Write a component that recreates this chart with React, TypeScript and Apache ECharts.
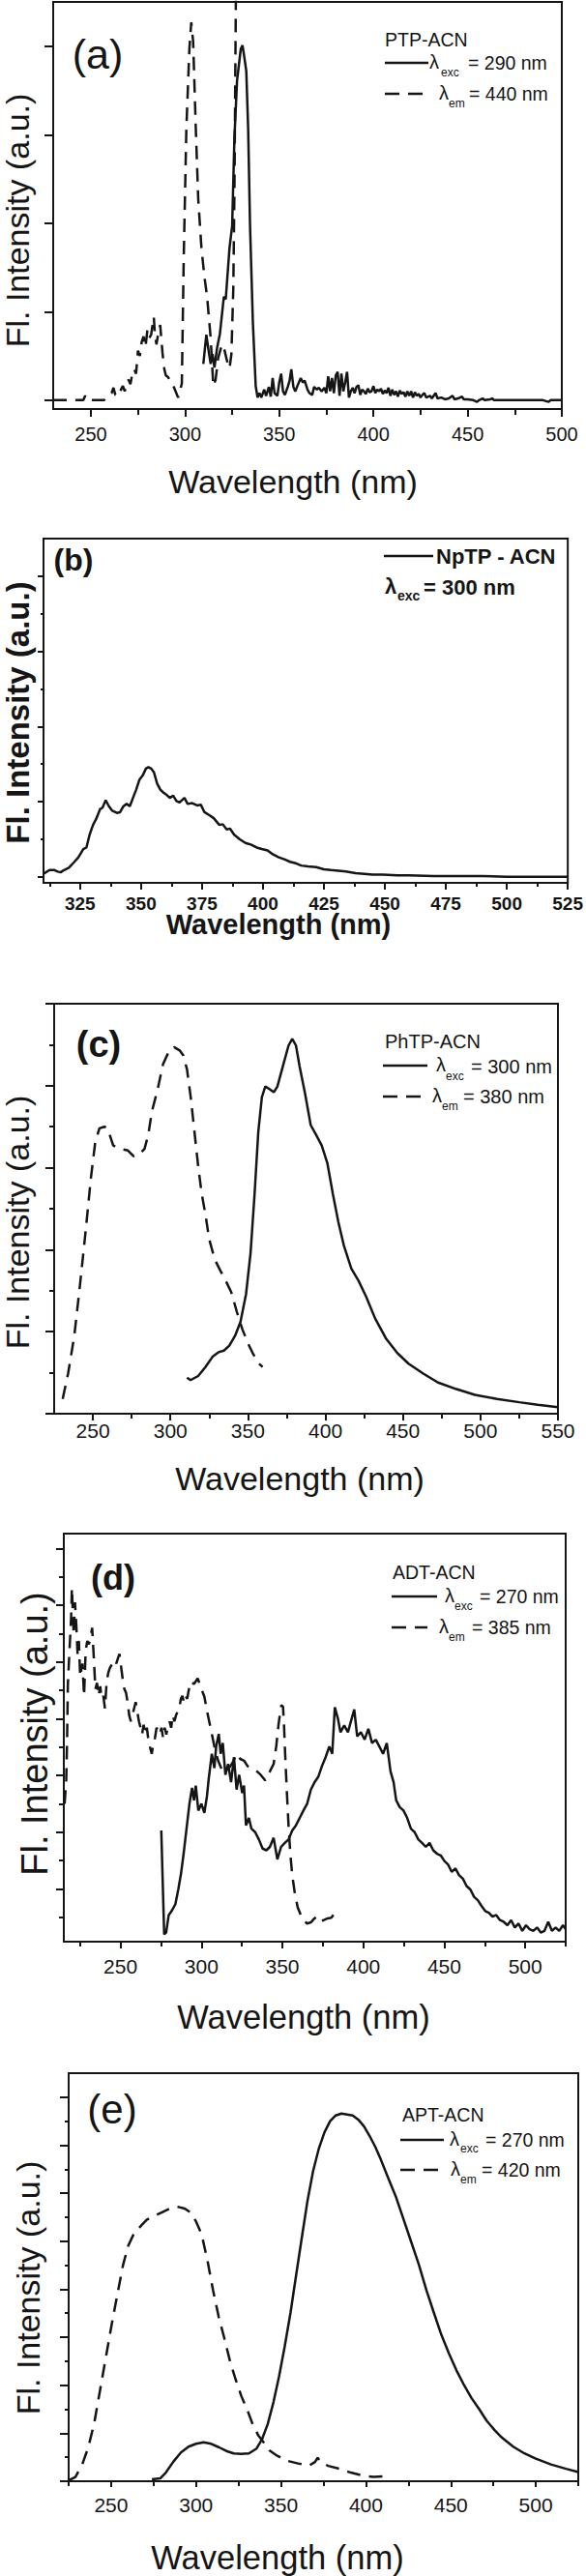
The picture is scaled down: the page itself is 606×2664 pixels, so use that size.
import React, { useEffect, useRef } from "react";
import * as echarts from "echarts";

const FONT = '"Liberation Sans", Arial, Helvetica, sans-serif';
const INK = "#151515";

// ---------- (a) PTP-ACN ----------
const ptpEmission: [number, number][] = [
  [309.7, 0.41], [311.3, 0.74], [312.5, 0.56], [313.6, 0.41], [314.6, 0.52], [315.6, 0.37], [317, 0.59],
  [318.5, 0.75], [320.6, 1.17], [321.6, 1.14], [323.6, 1.72], [325, 1.97], [326.2, 2.96], [327.6, 3.61],
  [329.6, 3.97], [330.5, 4.01], [331.5, 3.87], [332.5, 3.72], [333.5, 3.07], [334.5, 1.97], [336, 0.88],
  [337.5, 0.16], [338.5, 0.03], [339.5, 0.08], [340.5, 0.03], [342, 0.12], [343, 0.05], [344.5, 0.15],
  [345.5, 0.04], [346.5, 0.25], [347.5, 0.08], [349, 0.05], [350, 0.2], [351, 0.3], [352, 0.1], [353, 0.06],
  [354.5, 0.15], [355.5, 0.22], [356.4, 0.35], [357.5, 0.15], [358.5, 0.1], [360, 0.18], [361.4, 0.25],
  [362.5, 0.2], [363.5, 0.22], [365, 0.12], [366, 0.08], [367.5, 0.06], [368.5, 0.15], [370, 0.12],
  [371, 0.14], [372.5, 0.1], [374, 0.14], [375, 0.08], [376, 0.27], [377, 0.1], [378, 0.25], [379, 0.08],
  [380, 0.28], [381, 0.32], [382, 0.05], [383, 0.3], [384, 0.1], [385, 0.2], [386, 0.32], [387, 0.03],
  [388, 0.1], [389, 0.14], [390, 0.08], [391, 0.15], [392, 0.17], [393, 0.06], [394, 0.12], [395, 0.1],
  [396, 0.07], [397, 0.13], [398, 0.09], [399, 0.1], [400, 0.16], [401, 0.08], [402, 0.12], [403, 0.1],
  [404, 0.13], [405, 0.07], [406, 0.11], [407, 0.08], [408, 0.14], [409, 0.05], [410, 0.12], [411, 0.06],
  [412, 0.1], [413, 0.04], [414, 0.11], [415, 0.07], [416, 0.09], [417, 0.04], [418, 0.1], [419, 0.05],
  [420, 0.1], [421, 0.03], [422, 0.09], [423, 0.05], [424, 0.07], [425, 0.03], [426, 0.06], [427, 0.08],
  [428, 0.03], [430, 0.05], [431, 0.02], [433, 0.08], [434, 0.02], [436, 0.03], [438, 0.01], [440, 0.02],
  [442, 0.05], [443, 0.01], [445, 0.02], [447, 0.04], [448, 0.01], [450, 0.01], [453, 0.0], [455, -0.02],
  [456, 0.0], [458, 0.02], [459, 0.0], [462, 0.01], [463, 0.02], [464, 0.0], [470, 0.0], [480, 0.0],
  [490, 0.0], [493, -0.02], [494, 0.0], [500, 0.0],
];
const ptpExcitation: [number, number][] = [
  [230, 0], [246, 0], [247, 0.05], [248, 0], [257, 0], [261, 0.08], [262, 0.14], [263, 0.06], [265, 0.05],
  [266, 0.12], [267, 0.16], [268, 0.1], [269, 0.2], [270, 0.23], [271, 0.18], [272, 0.3], [273, 0.35],
  [274, 0.3], [275, 0.56], [276, 0.5], [277, 0.66], [278, 0.72], [279, 0.6], [280, 0.79], [281, 0.7],
  [282, 0.74], [283.4, 0.94], [284, 0.75], [284.8, 0.63], [285.5, 0.72], [286.8, 0.85], [288, 0.54],
  [289, 0.35], [289.8, 0.28], [291, 0.26], [291.8, 0.23], [293, 0.2], [293.8, 0.16], [295, 0.1],
  [296.3, 0.03], [297.5, 0.12], [298.3, 0.19], [299.3, 1.61], [300.7, 3.07], [302.3, 3.97], [303.3, 4.27],
  [304.3, 4.05], [305.7, 3.07], [307, 2.27], [308.7, 1.72], [310.3, 1.39], [311.7, 1.17], [312.6, 0.95],
  [313.6, 0.7], [315, 0.16], [316.2, 0.23], [317.6, 0.48], [319.6, 0.63], [321, 0.56], [322.2, 0.45],
  [323.6, 0.36], [324.6, 0.52], [325.6, 1.25], [326.2, 2.34], [327, 4.6], [327.5, 5.2],
];

// ---------- (b) NpTP-ACN ----------
const nptpEmission: [number, number][] = [
  [310, 0.04], [312.5, 0.09], [314.5, 0.09], [315.8, 0.07], [317, 0.06], [318.4, 0.09], [320.4, 0.12],
  [322.4, 0.19], [324.3, 0.26], [326.3, 0.37], [327.6, 0.39], [328.9, 0.56], [330.3, 0.69], [331.6, 0.77],
  [333.2, 0.9], [334.2, 0.92], [335.5, 1.02], [336.8, 0.94], [338.2, 0.88], [340.1, 0.85], [341.4, 0.86],
  [342.8, 0.94], [344.1, 0.97], [345.4, 0.94], [346.7, 1.05], [348, 1.16], [349.3, 1.29], [350.7, 1.35],
  [352, 1.44], [353, 1.46], [354.2, 1.44], [355.3, 1.39], [356.6, 1.24], [357.9, 1.16], [359.2, 1.12],
  [360.5, 1.09], [361.8, 1.05], [363.2, 1.08], [364.5, 1.01], [365.8, 0.99], [367.8, 1.05], [369.1, 0.97],
  [371, 0.98], [373, 0.95], [374.5, 0.96], [376, 0.86], [378, 0.82], [379.8, 0.78], [382.1, 0.69],
  [383.5, 0.7], [385.1, 0.63], [386.5, 0.64], [388.2, 0.56], [390.5, 0.5], [392.8, 0.45], [395, 0.43],
  [397.4, 0.39], [399.5, 0.37], [401.9, 0.35], [404, 0.3], [406.5, 0.26], [409, 0.23], [411.1, 0.2],
  [413.5, 0.18], [415.7, 0.15], [418.5, 0.14], [421.8, 0.13], [425, 0.1], [427.9, 0.09], [431, 0.08],
  [434, 0.07], [438, 0.05], [441.6, 0.04], [445, 0.03], [449.2, 0.03], [455, 0.02], [459.8, 0.02],
  [470, 0.01], [480, 0.01], [490, 0.01], [500, 0.0], [510, 0.0], [525, 0.0],
];

// ---------- (c) PhTP-ACN ----------
const phtpEmission: [number, number][] = [
  [310.7, 0.44], [313, 0.41], [317.9, 0.46], [322.6, 0.57], [327.4, 0.7], [331, 0.75], [334.5, 0.77],
  [338, 0.83], [341.7, 0.95], [345.2, 1.12], [348.8, 1.46], [351.7, 1.96], [354.3, 2.68], [356.7, 3.44],
  [359, 3.86], [361.2, 3.99], [363, 3.97], [366.7, 3.92], [369, 3.99], [372.6, 4.24], [376.2, 4.49],
  [378.6, 4.57], [381, 4.49], [383.3, 4.24], [386.9, 3.9], [390.5, 3.52], [394, 3.4], [397.6, 3.27],
  [401.2, 3.06], [404.8, 2.68], [408.3, 2.34], [411.9, 2.05], [416.7, 1.77], [421.4, 1.62], [426.2, 1.43],
  [432.1, 1.16], [439.3, 0.91], [446.4, 0.74], [453.6, 0.61], [463.1, 0.49], [472.6, 0.38], [484.5, 0.3],
  [496.4, 0.23], [510.7, 0.18], [525, 0.14], [536.9, 0.11], [550, 0.08],
];
const phtpExcitation: [number, number][] = [
  [230.5, 0.18], [234, 0.49], [238, 0.95], [241.5, 1.54], [245, 2.17], [248.8, 2.89], [251.5, 3.31],
  [254.2, 3.48], [257.5, 3.5], [259.5, 3.48], [263.1, 3.27], [267.9, 3.23], [272.6, 3.21], [276.2, 3.14],
  [279.8, 3.16], [283.3, 3.23], [285.7, 3.4], [288.1, 3.69], [291.7, 3.95], [295.2, 4.26], [298.8, 4.41],
  [302.4, 4.47], [306, 4.43], [308.3, 4.37], [310.7, 4.2], [313.1, 3.86], [315.5, 3.44], [317.9, 3.02],
  [320.2, 2.68], [322.6, 2.43], [325, 2.13], [328.6, 1.88], [332.1, 1.75], [335.7, 1.62], [339.3, 1.48],
  [342.9, 1.24], [346.4, 1.03], [350, 0.86], [353.6, 0.72], [357.1, 0.61], [359.5, 0.57],
];

// ---------- (d) ADT-ACN ----------
const adtEmission: [number, number][] = [
  [275.2, 2.03], [277, 0.2], [278.2, 0.23], [279.8, 0.54], [281.6, 0.61], [283.9, 0.73], [285.7, 0.99],
  [287.4, 1.27], [289, 1.62], [290.8, 2.06], [292.6, 2.5], [294.2, 2.78], [295.4, 2.56], [296.5, 2.82],
  [298.1, 2.38], [300, 2.5], [301.8, 2.34], [303.4, 2.63], [304.5, 2.94], [306.4, 3.38], [308, 3.13],
  [309.1, 3.51], [310.7, 3.73], [311.9, 3.38], [313.2, 3.57], [314.8, 3.01], [316.5, 3.2], [318.3, 2.88],
  [320.1, 3.32], [321.7, 2.75], [323.3, 3.01], [325.2, 2.69], [326.3, 2.82], [327.5, 2.12], [329.3, 2.25],
  [330.9, 2.06], [333.2, 2.0], [335.5, 1.87], [337.8, 1.71], [340.1, 1.68], [342.3, 1.74], [344.6, 1.9],
  [346.9, 1.52], [349.2, 1.74], [351.5, 1.81], [353.8, 1.87], [356.1, 2.03], [358.4, 2.12], [360.7, 2.25],
  [363, 2.38], [365.3, 2.5], [367.6, 2.75], [369.9, 2.88], [372.1, 2.97], [374.4, 3.16], [376.7, 3.32],
  [379, 3.51], [380.8, 3.38], [382.4, 4.2], [384.3, 4.0], [385.9, 3.76], [388.2, 3.88], [390.5, 3.76],
  [392.8, 4.0], [394.4, 4.16], [396.2, 3.69], [398.5, 3.76], [400.8, 3.63], [403.1, 3.82], [405.4, 3.57],
  [407.7, 3.63], [409.9, 3.51], [412.2, 3.38], [414.5, 3.57], [416.8, 3.07], [418.7, 2.88], [420.3, 2.56],
  [422.5, 2.44], [424.8, 2.38], [427.1, 2.25], [429.4, 2.06], [431.7, 2.0], [434, 1.87], [436.3, 1.81],
  [438.6, 1.74], [440.9, 1.81], [443.2, 1.68], [445.5, 1.62], [447.8, 1.59], [450.1, 1.49], [452.3, 1.43],
  [454.6, 1.3], [456.9, 1.36], [459.2, 1.24], [461.5, 1.18], [463.8, 1.05], [466.1, 0.99], [468.4, 0.86],
  [470.7, 0.8], [473, 0.7], [475.3, 0.61], [477.5, 0.58], [479.8, 0.51], [482.1, 0.54], [484.4, 0.45],
  [486.7, 0.42], [489, 0.36], [491.3, 0.45], [493.6, 0.32], [495.9, 0.39], [498.2, 0.26], [500.5, 0.36],
  [502.7, 0.29], [505, 0.26], [507.3, 0.32], [509.6, 0.23], [511.9, 0.26], [514.2, 0.42], [516.5, 0.26],
  [518.8, 0.32], [521, 0.26], [523.3, 0.36], [525, 0.29],
];
const adtExcitation: [number, number][] = [
  [215.5, 2.5], [216.5, 2.93], [217, 3.6], [217.5, 4.6], [218.5, 5.2], [219.5, 5.77], [220, 6.3],
  [221.1, 5.48], [221.9, 6.05], [222.7, 5.65], [223.5, 5.14], [224.3, 5.37], [225.1, 4.74], [226.5, 4.97],
  [227.5, 4.4], [228.5, 5.2], [229.5, 5.37], [230.5, 5.31], [231.5, 5.43], [232.5, 5.6], [233.5, 5.09],
  [234.5, 4.52], [235.5, 4.63], [236.5, 4.4], [237.5, 4.57], [238.4, 4.35], [239.4, 4.4], [240.4, 4.18],
  [241.4, 4.63], [242.4, 4.8], [243.4, 4.89], [244.4, 4.94], [245.4, 4.97], [246.4, 5.03], [247.4, 4.97],
  [248.4, 5.06], [249.4, 5.14], [250.4, 4.91], [251.4, 4.69], [252.4, 4.52], [253.4, 4.46], [254.4, 4.29],
  [255.4, 4.06], [256.4, 3.95], [257.4, 4.06], [258.4, 4.18], [259.4, 4.29], [260.4, 4.12], [261.4, 3.95],
  [262.4, 3.84], [263.3, 3.72], [264.3, 3.89], [265.3, 3.72], [266.3, 3.84], [267.3, 3.61], [268.3, 3.49],
  [269.3, 3.38], [270.3, 3.55], [271.3, 3.66], [272.3, 3.84], [273.3, 3.78], [274.3, 3.72], [275.3, 3.84],
  [276.3, 3.66], [277.3, 3.84], [278.3, 3.72], [279.3, 3.86], [280.3, 3.95], [281.3, 3.84], [282.3, 4.06],
  [283.3, 3.95], [284.3, 4.06], [285.3, 4.12], [286.3, 4.18], [287.3, 4.35], [288.2, 4.4], [289.2, 4.29],
  [290.2, 4.4], [291.2, 4.35], [293.1, 4.65], [295.4, 4.61], [297.7, 4.71], [300, 4.52], [301.8, 4.39],
  [303.4, 4.14], [305.7, 3.83], [308, 3.51], [310.3, 3.26], [312.6, 3.1], [314.8, 3.16], [317.1, 3.13],
  [319.4, 3.23], [321.7, 3.38], [324, 3.29], [326.3, 3.26], [328.6, 3.16], [330.9, 3.13], [334.3, 3.07],
  [336.6, 3.01], [339.4, 2.91], [342.3, 3.07], [344.6, 3.2], [346.2, 3.51], [347.6, 3.89], [348.5, 4.08],
  [349.4, 4.24], [350.4, 4.21], [351, 3.89], [351.7, 3.38], [352.7, 2.75], [353.8, 2.12], [354.9, 1.62],
  [356.1, 1.24], [357.7, 0.92], [359.5, 0.67], [361.8, 0.51], [363.7, 0.43], [365.3, 0.39], [367.6, 0.41],
  [369.8, 0.48], [371.4, 0.51], [373.3, 0.43], [375.6, 0.45], [377.9, 0.48], [380.2, 0.49], [382.4, 0.58],
];

// ---------- (e) APT-ACN ----------
const aptEmission: [number, number][] = [
  [274, 0.04], [278.9, 0.06], [282.2, 0.18], [286.7, 0.41], [291.1, 0.6], [295.6, 0.72], [300, 0.78],
  [304.4, 0.81], [308.9, 0.78], [313.3, 0.71], [317.8, 0.63], [322.2, 0.58], [326.7, 0.57], [331.1, 0.58],
  [335.6, 0.68], [338.9, 0.88], [342.2, 1.19], [345.6, 1.65], [348.9, 2.19], [352.2, 2.81], [355.6, 3.51],
  [358.9, 4.29], [362.2, 5.06], [365.6, 5.84], [368.9, 6.46], [372.2, 6.92], [375.6, 7.27], [378.9, 7.5],
  [382.2, 7.62], [385.6, 7.66], [388.9, 7.64], [392.2, 7.62], [395.6, 7.53], [398.9, 7.39], [402.2, 7.19],
  [405.6, 6.96], [408.9, 6.69], [413.3, 6.3], [417.8, 5.91], [422.2, 5.45], [426.7, 4.98], [431.1, 4.52],
  [435.6, 3.98], [440, 3.51], [444.4, 3.05], [448.9, 2.66], [453.3, 2.31], [457.8, 2.0], [462.2, 1.73],
  [466.7, 1.5], [471.1, 1.26], [475.6, 1.07], [480, 0.91], [486.7, 0.72], [493.3, 0.58], [500, 0.47],
  [508.9, 0.35], [517.8, 0.26], [525, 0.19],
];
const aptExcitation: [number, number][] = [
  [225, 0.02], [229, 0.09], [233, 0.35], [236.5, 0.7], [240, 1.2], [243.5, 1.9], [247, 2.6], [250.5, 3.3],
  [254, 3.95], [257, 4.5], [260, 4.9], [263.3, 5.15], [267.8, 5.33], [271.1, 5.45], [275.6, 5.53],
  [280, 5.6], [284.4, 5.68], [288.9, 5.72], [293.3, 5.68], [296.7, 5.6], [300, 5.41], [303.3, 5.14],
  [306.7, 4.6], [310, 3.98], [313.3, 3.43], [316.7, 2.97], [320, 2.5], [323.3, 2.12], [326.7, 1.77],
  [330, 1.5], [333.3, 1.19], [336.7, 0.95], [340, 0.8], [343.3, 0.64], [347.8, 0.53], [353.3, 0.43],
  [360, 0.37], [366.7, 0.33], [370, 0.4], [371.6, 0.49], [373.3, 0.4], [377.8, 0.32], [384.4, 0.26],
  [391.1, 0.18], [397.8, 0.12], [404.4, 0.09], [410, 0.1], [414.4, 0.14],
];

// ---------- tick values ----------
const aXTicks = [250, 300, 350, 400, 450, 500];
const aXMinor = [275, 325, 375, 425, 475];
const aYTicks = [0, 1, 2, 3, 4];
const aYMinor: number[] = [];
const bXTicks = [325, 350, 375, 400, 425, 450, 475, 500, 525];
const bXMinor = [312.5, 337.5, 362.5, 387.5, 412.5, 437.5, 462.5, 487.5, 512.5];
const bYTicks = [0, 1, 2, 3, 4];
const bYMinor = [0.5, 1.5, 2.5, 3.5];
const cXTicks = [250, 300, 350, 400, 450, 500, 550];
const cXMinor = [275, 325, 375, 425, 475, 525];
const cYTicks = [0, 1, 2, 3, 4, 5];
const cYMinor = [0.5, 1.5, 2.5, 3.5, 4.5];
const dXTicks = [250, 300, 350, 400, 450, 500];
const dXMinor = [225, 275, 325, 375, 425, 475, 525];
const dYTicks = [1, 2, 3, 4, 5, 6, 7];
const dYMinor = [0.5, 1.5, 2.5, 3.5, 4.5, 5.5, 6.5];
const eXTicks = [250, 300, 350, 400, 450, 500];
const eXMinor = [225, 275, 325, 375, 425, 475, 525];
const eYTicks = [0, 1, 2, 3, 4, 5, 6, 7, 8];
const eYMinor = [0.5, 1.5, 2.5, 3.5, 4.5, 5.5, 6.5, 7.5];

const panels = [
  {
    grid: { left: 55, top: 2, width: 526, height: 421 },
    x: [230, 500], y: [-0.1, 4.5],
    xT: aXTicks, xM: aXMinor, yT: aYTicks, yM: aYMinor,
    xLen: [8, 6], yLen: [9, 5], margin: 15.5, lblSize: 20, bold: false,
    series: [
      { data: ptpEmission, dashed: false },
      { data: ptpExcitation, dashed: true },
    ],
  },
  {
    grid: { left: 45, top: 557, width: 543, height: 356 },
    x: [310, 525], y: [-0.08, 4.5],
    xT: bXTicks, xM: bXMinor, yT: bYTicks, yM: bYMinor,
    xLen: [7, 4], yLen: [6, 3], margin: 11.5, lblSize: 19, bold: true,
    series: [{ data: nptpEmission, dashed: false }],
  },
  {
    grid: { left: 56, top: 1038, width: 521, height: 424 },
    x: [225, 550], y: [0, 5],
    xT: cXTicks, xM: cXMinor, yT: cYTicks, yM: cYMinor,
    xLen: [7, 5], yLen: [9, 5], margin: 6.5, lblSize: 21, bold: false,
    series: [
      { data: phtpEmission, dashed: false },
      { data: phtpExcitation, dashed: true },
    ],
  },
  {
    grid: { left: 66, top: 1586, width: 519, height: 422 },
    x: [215, 525], y: [0.07, 7.26],
    xT: dXTicks, xM: dXMinor, yT: dYTicks, yM: dYMinor,
    xLen: [7, 5], yLen: [8, 5], margin: 14.5, lblSize: 21, bold: false,
    series: [
      { data: adtEmission, dashed: false },
      { data: adtExcitation, dashed: true },
    ],
  },
  {
    grid: { left: 71, top: 2144, width: 527, height: 422 },
    x: [225, 525], y: [0, 8.5],
    xT: eXTicks, xM: eXMinor, yT: eYTicks, yM: eYMinor,
    xLen: [6, 5], yLen: [9, 4], margin: 13.5, lblSize: 21, bold: false,
    series: [
      { data: aptEmission, dashed: false },
      { data: aptExcitation, dashed: true },
    ],
  },
];

function txt(text: string, x: number, y: number, size: number, opts: any = {}) {
  return {
    type: "text",
    x,
    y,
    rotation: opts.rotation || 0,
    silent: true,
    style: {
      text,
      fill: INK,
      fontSize: size,
      fontFamily: FONT,
      fontWeight: opts.bold ? "bold" : "normal",
      align: opts.align || "left",
      textAlign: opts.align || "left",
      verticalAlign: "middle",
      textVerticalAlign: "middle",
    },
  };
}

function legLine(x1: number, x2: number, y: number, dashed: boolean) {
  return {
    type: "line",
    silent: true,
    shape: { x1, y1: y, x2, y2: y },
    style: { stroke: INK, lineWidth: 2.6, lineDash: dashed ? [15, 9] : null },
  };
}

function buildGraphic() {
  const g: any[] = [];
  // panel letters
  g.push(txt("(a)", 101, 56, 43, { align: "center" }));
  g.push(txt("(b)", 76, 579, 32, { align: "center", bold: true }));
  g.push(txt("(c)", 102, 1080, 38, { align: "center", bold: true }));
  g.push(txt("(d)", 117, 1631, 36, { align: "center", bold: true }));
  g.push(txt("(e)", 116, 2181, 42, { align: "center" }));
  // x titles
  g.push(txt("Wavelength (nm)", 303, 498, 34, { align: "center" }));
  g.push(txt("Wavelength (nm)", 288, 956, 29, { align: "center", bold: true }));
  g.push(txt("Wavelength (nm)", 310, 1529, 34, { align: "center" }));
  g.push(txt("Wavelength (nm)", 314, 2086, 34.5, { align: "center" }));
  g.push(txt("Wavelength (nm)", 287, 2645, 34.5, { align: "center" }));
  // y titles
  const R = Math.PI / 2;
  g.push(txt("Fl. Intensity (a.u.)", 18, 228, 34, { align: "center", rotation: R }));
  g.push(txt("Fl. Intensity (a.u.)", 18, 737, 33, { align: "center", rotation: R, bold: true }));
  g.push(txt("Fl. Intensity (a.u.)", 18, 1264, 34, { align: "center", rotation: R }));
  g.push(txt("Fl. Intensity (a.u.)", 36, 1793, 38, { align: "center", rotation: R }));
  g.push(txt("Fl. Intensity (a.u.)", 29, 2366, 34, { align: "center", rotation: R }));

  // legend (a)
  g.push(txt("PTP-ACN", 398, 41, 19.5));
  g.push(legLine(398, 443, 65, false));
  g.push(txt("λ", 444, 64, 20));
  g.push(txt("exc", 456, 75, 12));
  g.push(txt("= 290 nm", 484, 65, 19.5));
  g.push(legLine(398, 437, 97, true));
  g.push(txt("λ", 454, 96, 20));
  g.push(txt("em", 464, 107, 12));
  g.push(txt("= 440 nm", 485, 97, 19.5));
  // legend (b)
  g.push(legLine(397, 448, 575, false));
  g.push(txt("NpTP - ACN", 451, 575, 22, { bold: true }));
  g.push(txt("λ", 398, 606, 22, { bold: true }));
  g.push(txt("exc", 411, 616, 14, { bold: true }));
  g.push(txt("= 300 nm", 438, 607, 22, { bold: true }));
  // legend (c)
  g.push(txt("PhTP-ACN", 398, 1077, 20));
  g.push(legLine(396, 442, 1102, false));
  g.push(txt("λ", 451, 1101, 20));
  g.push(txt("exc", 461, 1113, 12));
  g.push(txt("= 300 nm", 487, 1103, 20));
  g.push(legLine(396, 437, 1134, true));
  g.push(txt("λ", 447, 1133, 20));
  g.push(txt("em", 457, 1144, 12));
  g.push(txt("= 380 nm", 479, 1134, 20));
  // legend (d)
  g.push(txt("ADT-ACN", 406, 1626, 19.5));
  g.push(legLine(405, 452, 1651, false));
  g.push(txt("λ", 460, 1650, 20));
  g.push(txt("exc", 470, 1661, 12));
  g.push(txt("= 270 nm", 496, 1651, 19.5));
  g.push(legLine(405, 442, 1683, true));
  g.push(txt("λ", 454, 1682, 20));
  g.push(txt("em", 464, 1693, 12));
  g.push(txt("= 385 nm", 488, 1683, 19.5));
  // legend (e)
  g.push(txt("APT-ACN", 416, 2187, 19.5));
  g.push(legLine(414, 459, 2213, false));
  g.push(txt("λ", 465, 2212, 20));
  g.push(txt("exc", 476, 2222, 12));
  g.push(txt("= 270 nm", 502, 2213, 19.5));
  g.push(legLine(414, 453, 2244, true));
  g.push(txt("λ", 466, 2243, 20));
  g.push(txt("em", 476, 2254, 12));
  g.push(txt("= 420 nm", 498, 2244, 19.5));
  return g;
}

function buildOption() {
  const grid: any[] = [];
  const xAxis: any[] = [];
  const yAxis: any[] = [];
  const series: any[] = [];
  panels.forEach((p, i) => {
    grid.push({
      ...p.grid,
      show: true,
      borderColor: INK,
      borderWidth: 2,
      backgroundColor: "transparent",
      containLabel: false,
    });
    const lineStyle = { color: INK, width: 2 };
    const labelStyle = {
      margin: p.margin,
      fontSize: p.lblSize,
      fontFamily: FONT,
      fontWeight: p.bold ? "bold" : "normal",
      color: INK,
    };
    xAxis.push({
      type: "value", gridIndex: i, min: p.x[0], max: p.x[1], position: "bottom",
      axisLine: { show: true, onZero: false, lineStyle },
      axisTick: { show: true, inside: false, length: p.xLen[0], customValues: p.xT, lineStyle },
      axisLabel: { show: true, customValues: p.xT, ...labelStyle },
      splitLine: { show: false },
    });
    xAxis.push({
      type: "value", gridIndex: i, min: p.x[0], max: p.x[1], position: "bottom",
      axisLine: { show: false, onZero: false },
      axisTick: { show: p.xM.length > 0, inside: false, length: p.xLen[1], customValues: p.xM, lineStyle },
      axisLabel: { show: false },
      splitLine: { show: false },
    });
    yAxis.push({
      type: "value", gridIndex: i, min: p.y[0], max: p.y[1], position: "left",
      axisLine: { show: true, onZero: false, lineStyle },
      axisTick: { show: true, inside: false, length: p.yLen[0], customValues: p.yT, lineStyle },
      axisLabel: { show: false },
      splitLine: { show: false },
    });
    yAxis.push({
      type: "value", gridIndex: i, min: p.y[0], max: p.y[1], position: "left",
      axisLine: { show: false, onZero: false },
      axisTick: { show: p.yM.length > 0, inside: false, length: p.yLen[1], customValues: p.yM.length ? p.yM : [p.y[0]], lineStyle },
      axisLabel: { show: false },
      splitLine: { show: false },
    });
    p.series.forEach((s) => {
      series.push({
        type: "line",
        xAxisIndex: 2 * i,
        yAxisIndex: 2 * i,
        data: s.data,
        showSymbol: false,
        symbol: "none",
        smooth: false,
        clip: true,
        silent: true,
        lineStyle: { color: INK, width: 2.5, type: s.dashed ? [14, 9] : "solid" },
      });
    });
  });
  return {
    animation: false,
    backgroundColor: "#ffffff",
    grid,
    xAxis,
    yAxis,
    series,
    graphic: { elements: buildGraphic() },
  };
}

export default function App() {
  const ref = useRef<HTMLDivElement>(null);
  useEffect(() => {
    if (!ref.current) return;
    const chart = echarts.init(ref.current, undefined, { renderer: "svg" });
    chart.setOption(buildOption() as any);
    return () => chart.dispose();
  }, []);
  return (
    <div
      ref={ref}
      style={{ position: "absolute", left: 0, top: 0, width: 606, height: 2664, background: "#fff" }}
    />
  );
}
